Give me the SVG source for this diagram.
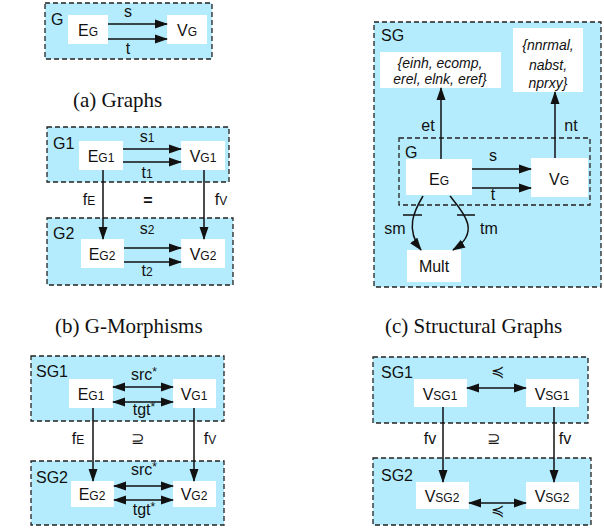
<svg xmlns="http://www.w3.org/2000/svg" width="604" height="529" viewBox="0 0 604 529">
<style>
.box{fill:#b4ecfd;stroke:#222;stroke-width:1.3;stroke-dasharray:5 3}
.inner{fill:none;stroke:#222;stroke-width:1.3;stroke-dasharray:5 3}
.node{fill:#fff;stroke:none}
.lbl{font-family:"Liberation Sans",Arial,sans-serif;font-size:16px;fill:#111}
.t{font-family:"Liberation Sans",Arial,sans-serif;font-size:16px;fill:#111;text-anchor:middle}
.it{font-family:"Liberation Sans",Arial,sans-serif;font-size:14px;font-style:italic;fill:#111;text-anchor:middle}
.sub{font-size:12px}
.cap{font-family:"Liberation Serif","Times New Roman",serif;font-size:21px;fill:#111}
.e{stroke:#111;stroke-width:1.5;fill:none}
</style>
<defs>
<marker id="ah" markerWidth="13" markerHeight="10" refX="12" refY="5" orient="auto" markerUnits="userSpaceOnUse"><path d="M0,0.5 L13,5 L0,9.5 Z" fill="#111"/></marker>
<marker id="as" markerWidth="13" markerHeight="10" refX="1" refY="5" orient="auto" markerUnits="userSpaceOnUse"><path d="M13,0.5 L0,5 L13,9.5 Z" fill="#111"/></marker>
</defs>

<!-- (a) Graphs -->
<g id="a-G"><rect class="box" x="45" y="3" width="167" height="56"/><text class="lbl" x="51" y="25">G</text></g>
<g id="a-EG"><rect class="node" x="68" y="15" width="40" height="29"/><text class="t" x="88" y="36">E<tspan class="sub">G</tspan></text></g>
<g id="a-VG"><rect class="node" x="167" y="15" width="40" height="29"/><text class="t" x="187" y="36">V<tspan class="sub">G</tspan></text></g>
<text class="cap" x="73" y="107">(a) Graphs</text>

<!-- (b) G-Morphisms -->
<g id="b-G1"><rect class="box" x="47" y="127" width="182" height="55"/><text class="lbl" x="53" y="149">G1</text></g>
<g id="b-G2"><rect class="box" x="47" y="218" width="186" height="67"/><text class="lbl" x="53" y="239">G2</text></g>
<g id="b-EG1"><rect class="node" x="79" y="141" width="44" height="29"/><text class="t" x="101" y="162">E<tspan class="sub">G1</tspan></text></g>
<g id="b-VG1"><rect class="node" x="181" y="141" width="44" height="29"/><text class="t" x="203" y="162">V<tspan class="sub">G1</tspan></text></g>
<g id="b-EG2"><rect class="node" x="81" y="239" width="43" height="29"/><text class="t" x="102" y="260">E<tspan class="sub">G2</tspan></text></g>
<g id="b-VG2"><rect class="node" x="181" y="239" width="44" height="29"/><text class="t" x="203" y="260">V<tspan class="sub">G2</tspan></text></g>
<text class="cap" x="55" y="333">(b) G-Morphisms</text>

<!-- (c) Structural Graphs -->
<g id="c-SG"><rect class="box" x="374" y="22" width="227" height="265"/><text class="lbl" x="381" y="41">SG</text></g>
<g id="c-G"><rect class="inner" x="399" y="138" width="191" height="67"/><text class="lbl" x="405" y="158">G</text></g>
<g id="c-ET"><rect class="node" x="380" y="52" width="121" height="36"/><text class="it" x="440" y="68">{einh, ecomp,</text><text class="it" x="440" y="84">erel, elnk, eref}</text></g>
<g id="c-NT"><rect class="node" x="513" y="28" width="70" height="64"/><text class="it" x="548" y="50">{nnrmal,</text><text class="it" x="548" y="70">nabst,</text><text class="it" x="548" y="88">nprxy}</text></g>
<g id="c-EG"><rect class="node" x="406" y="159" width="66" height="36"/><text class="t" x="439" y="185">E<tspan class="sub">G</tspan></text></g>
<g id="c-VG"><rect class="node" x="531" y="158" width="57" height="39"/><text class="t" x="559" y="185">V<tspan class="sub">G</tspan></text></g>
<g id="c-Mult"><rect class="node" x="407" y="250" width="54" height="32"/><text class="t" x="434" y="272">Mult</text></g>
<text class="cap" x="385" y="333">(c) Structural Graphs</text>

<!-- (d) -->
<g id="d-SG1"><rect class="box" x="31" y="356" width="193" height="65"/><text class="lbl" x="36" y="377">SG1</text></g>
<g id="d-SG2"><rect class="box" x="31" y="461" width="193" height="64"/><text class="lbl" x="36" y="483">SG2</text></g>
<g id="d-EG1"><rect class="node" x="69" y="379" width="44" height="29"/><text class="t" x="91" y="400">E<tspan class="sub">G1</tspan></text></g>
<g id="d-VG1"><rect class="node" x="173" y="379" width="43" height="29"/><text class="t" x="194" y="400">V<tspan class="sub">G1</tspan></text></g>
<g id="d-EG2"><rect class="node" x="71" y="481" width="43" height="26"/><text class="t" x="92" y="500">E<tspan class="sub">G2</tspan></text></g>
<g id="d-VG2"><rect class="node" x="173" y="481" width="43" height="26"/><text class="t" x="194" y="500">V<tspan class="sub">G2</tspan></text></g>

<!-- (e) -->
<g id="e-SG1"><rect class="box" x="373" y="357" width="215" height="66"/><text class="lbl" x="381" y="378">SG1</text></g>
<g id="e-SG2"><rect class="box" x="373" y="458" width="218" height="67"/><text class="lbl" x="381" y="481">SG2</text></g>
<g id="e-V1L"><rect class="node" x="414" y="379" width="53" height="28"/><text class="t" x="440" y="400">V<tspan class="sub">SG1</tspan></text></g>
<g id="e-V1R"><rect class="node" x="526" y="379" width="53" height="28"/><text class="t" x="552" y="400">V<tspan class="sub">SG1</tspan></text></g>
<g id="e-V2L"><rect class="node" x="416" y="482" width="53" height="27"/><text class="t" x="442" y="502">V<tspan class="sub">SG2</tspan></text></g>
<g id="e-V2R"><rect class="node" x="526" y="482" width="53" height="27"/><text class="t" x="552" y="502">V<tspan class="sub">SG2</tspan></text></g>

<g id="connectors">
<!-- (a) -->
<line class="e" x1="108" y1="24" x2="167" y2="24" marker-end="url(#ah)"/>
<line class="e" x1="108" y1="39" x2="167" y2="39" marker-end="url(#ah)"/>
<text class="t" x="128" y="17">s</text>
<text class="t" x="128" y="54">t</text>
<!-- (b) -->
<line class="e" x1="123" y1="149" x2="181" y2="149" marker-end="url(#ah)"/>
<line class="e" x1="123" y1="162" x2="181" y2="162" marker-end="url(#ah)"/>
<line class="e" x1="124" y1="248" x2="181" y2="248" marker-end="url(#ah)"/>
<line class="e" x1="124" y1="262" x2="181" y2="262" marker-end="url(#ah)"/>
<line class="e" x1="103" y1="170" x2="103" y2="239" marker-end="url(#ah)"/>
<line class="e" x1="204" y1="170" x2="204" y2="239" marker-end="url(#ah)"/>
<text class="t" x="147" y="142">s<tspan class="sub">1</tspan></text>
<text class="t" x="147" y="178">t<tspan class="sub">1</tspan></text>
<text class="t" x="147" y="234">s<tspan class="sub">2</tspan></text>
<text class="t" x="147" y="276">t<tspan class="sub">2</tspan></text>
<text class="t" x="89" y="205">f<tspan class="sub">E</tspan></text>
<text class="t" x="148" y="206" font-weight="bold">=</text>
<text class="t" x="221" y="205">f<tspan class="sub">V</tspan></text>
<!-- (c) -->
<line class="e" x1="472" y1="169" x2="531" y2="169" marker-end="url(#ah)"/>
<line class="e" x1="472" y1="188" x2="531" y2="188" marker-end="url(#ah)"/>
<line class="e" x1="441" y1="159" x2="441" y2="88" marker-end="url(#ah)"/>
<line class="e" x1="555" y1="158" x2="555" y2="92" marker-end="url(#ah)"/>
<path class="e" d="M423,196 C414,211 405,229 421,250" marker-end="url(#ah)"/>
<path class="e" d="M450,196 C463,212 482,232 453,250" marker-end="url(#ah)"/>
<line class="e" x1="403" y1="215" x2="422" y2="215"/>
<line class="e" x1="457" y1="215" x2="475" y2="215"/>
<text class="t" x="493" y="161">s</text>
<text class="t" x="493" y="200">t</text>
<text class="t" x="428" y="131">et</text>
<text class="t" x="571" y="131">nt</text>
<text class="t" x="395" y="234">sm</text>
<text class="t" x="489" y="234">tm</text>
<!-- (d) -->
<line class="e" x1="113" y1="387" x2="173" y2="387" marker-start="url(#as)" marker-end="url(#ah)"/>
<line class="e" x1="113" y1="402" x2="173" y2="402" marker-start="url(#as)" marker-end="url(#ah)"/>
<line class="e" x1="114" y1="486" x2="173" y2="486" marker-start="url(#as)" marker-end="url(#ah)"/>
<line class="e" x1="114" y1="500" x2="173" y2="500" marker-start="url(#as)" marker-end="url(#ah)"/>
<line class="e" x1="93" y1="408" x2="93" y2="481" marker-end="url(#ah)"/>
<line class="e" x1="194" y1="408" x2="194" y2="481" marker-end="url(#ah)"/>
<text class="t" x="144" y="380">src<tspan class="sub" dy="-4">*</tspan></text>
<text class="t" x="144" y="415">tgt<tspan class="sub" dy="-4">*</tspan></text>
<text class="t" x="144" y="475">src<tspan class="sub" dy="-4">*</tspan></text>
<text class="t" x="144" y="515">tgt<tspan class="sub" dy="-4">*</tspan></text>
<text class="t" x="78" y="444">f<tspan class="sub">E</tspan></text>
<text class="t" x="137" y="444">⊇</text>
<text class="t" x="210" y="444">f<tspan class="sub">V</tspan></text>
<!-- (e) -->
<line class="e" x1="467" y1="388" x2="526" y2="388" marker-start="url(#as)" marker-end="url(#ah)"/>
<line class="e" x1="469" y1="503" x2="526" y2="503" marker-start="url(#as)" marker-end="url(#ah)"/>
<line class="e" x1="443" y1="407" x2="443" y2="482" marker-end="url(#ah)"/>
<line class="e" x1="554" y1="407" x2="554" y2="482" marker-end="url(#ah)"/>
<text class="t" x="497" y="377" font-family="DejaVu Sans" font-size="10">≼</text>
<text class="t" x="497" y="516" font-family="DejaVu Sans" font-size="10">≼</text>
<text class="t" x="430" y="444">fv</text>
<text class="t" x="493" y="444">⊇</text>
<text class="t" x="565" y="444">fv</text>
</g>
</svg>
